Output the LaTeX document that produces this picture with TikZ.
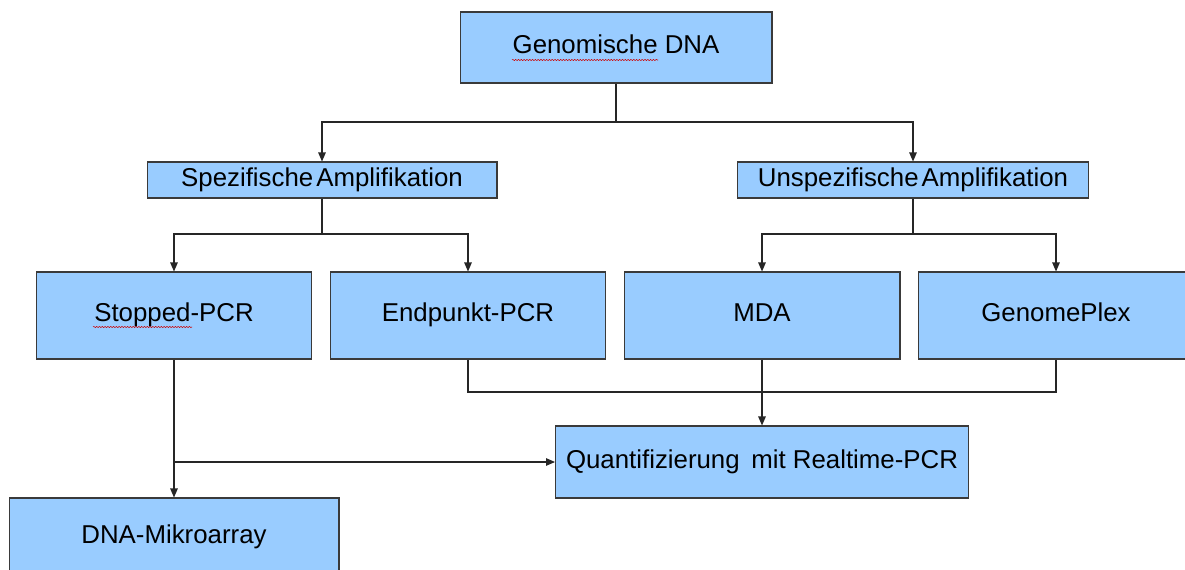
\documentclass[tikz,border=0pt]{standalone}
\usepackage{fontspec}
\setmainfont{Liberation Sans}
\usepackage{tikz}
\usepackage{xcolor}
\usetikzlibrary{positioning, arrows.meta}
\usetikzlibrary{decorations.pathmorphing}

\definecolor{boxblue}{HTML}{99CCFF}
\definecolor{boxline}{HTML}{3A3A3A}

\begin{document}
\begin{tikzpicture}[x=0.02cm, y=-0.02cm,
    every box/.style={rectangle, draw=boxline, line width=0.6pt, fill=boxblue, inner sep=0pt, text height=0.72em, text depth=0pt, font=\fontsize{14.7}{17}\selectfont},
    every link/.style={draw=black!85, line width=0.6pt},
    every arrow/.style={every link, -{Triangle[length=0.18cm, width=0.15cm]}},
    spell/.style={red!80!black, line width=0.3pt, decorate, decoration={snake, amplitude=0.35pt, segment length=1.6pt}}]

    \useasboundingbox (0,0) rectangle (1185,570);
    \clip (0,0) rectangle (1185,570);

    % Top level
    \node[every box, minimum width=6.24cm, minimum height=1.42cm] (dna) at (616, 47.5) {Genomische DNA};

    % Amplification
    \node[every box, minimum width=7.0cm, minimum height=0.72cm] (spez) at (322, 180) {Spezifische\hspace{0.12em}Amplifikation};
    \node[every box, minimum width=7.02cm, minimum height=0.72cm] (unspez) at (913, 180) {Unspezifische\hspace{0.12em}Amplifikation};

    % Methods
    \node[every box, minimum width=5.5cm, minimum height=1.74cm] (stopped) at (174, 315.5) {Stopped-PCR};
    \node[every box, minimum width=5.5cm, minimum height=1.74cm] (endpunkt) at (468, 315.5) {Endpunkt-PCR};
    \node[every box, minimum width=5.52cm, minimum height=1.74cm] (mda) at (762, 315.5) {MDA};
    \node[every box, minimum width=5.52cm, minimum height=1.74cm] (plex) at (1056, 315.5) {GenomePlex};

    % Analysis
    \node[every box, minimum width=8.26cm, minimum height=1.44cm] (quant) at (762, 462) {Quantifizierung\hspace{0.45em}mit Realtime-PCR};
    \node[every box, minimum width=6.6cm, minimum height=1.56cm] (mikro) at (174, 537) {DNA-Mikroarray};

    % Branch points
    \coordinate (split1) at (616, 122);
    \coordinate (split2) at (322, 234);
    \coordinate (split3) at (913, 234);
    \coordinate (join) at (762, 392);
    \coordinate (tap) at (174, 462);

    % Connections
    \draw[every link] (dna) -- (split1);
    \draw[every arrow] (split1) -| (spez);
    \draw[every arrow] (split1) -| (unspez);

    \draw[every link] (spez) -- (split2);
    \draw[every arrow] (split2) -| (stopped);
    \draw[every arrow] (split2) -| (endpunkt);

    \draw[every link] (unspez) -- (split3);
    \draw[every arrow] (split3) -| (mda);
    \draw[every arrow] (split3) -| (plex);

    \draw[every link] (endpunkt) |- (join) -| (plex);
    \draw[every arrow] (mda) -- (quant);

    \draw[every arrow] (stopped) -- (mikro);
    \draw[every arrow] (tap) -- (quant);

    % Spell check marks
    \draw[spell] (512, 60) -- (658, 60);
    \draw[spell] (93, 327) -- (192, 327);

\end{tikzpicture}
\end{document}
